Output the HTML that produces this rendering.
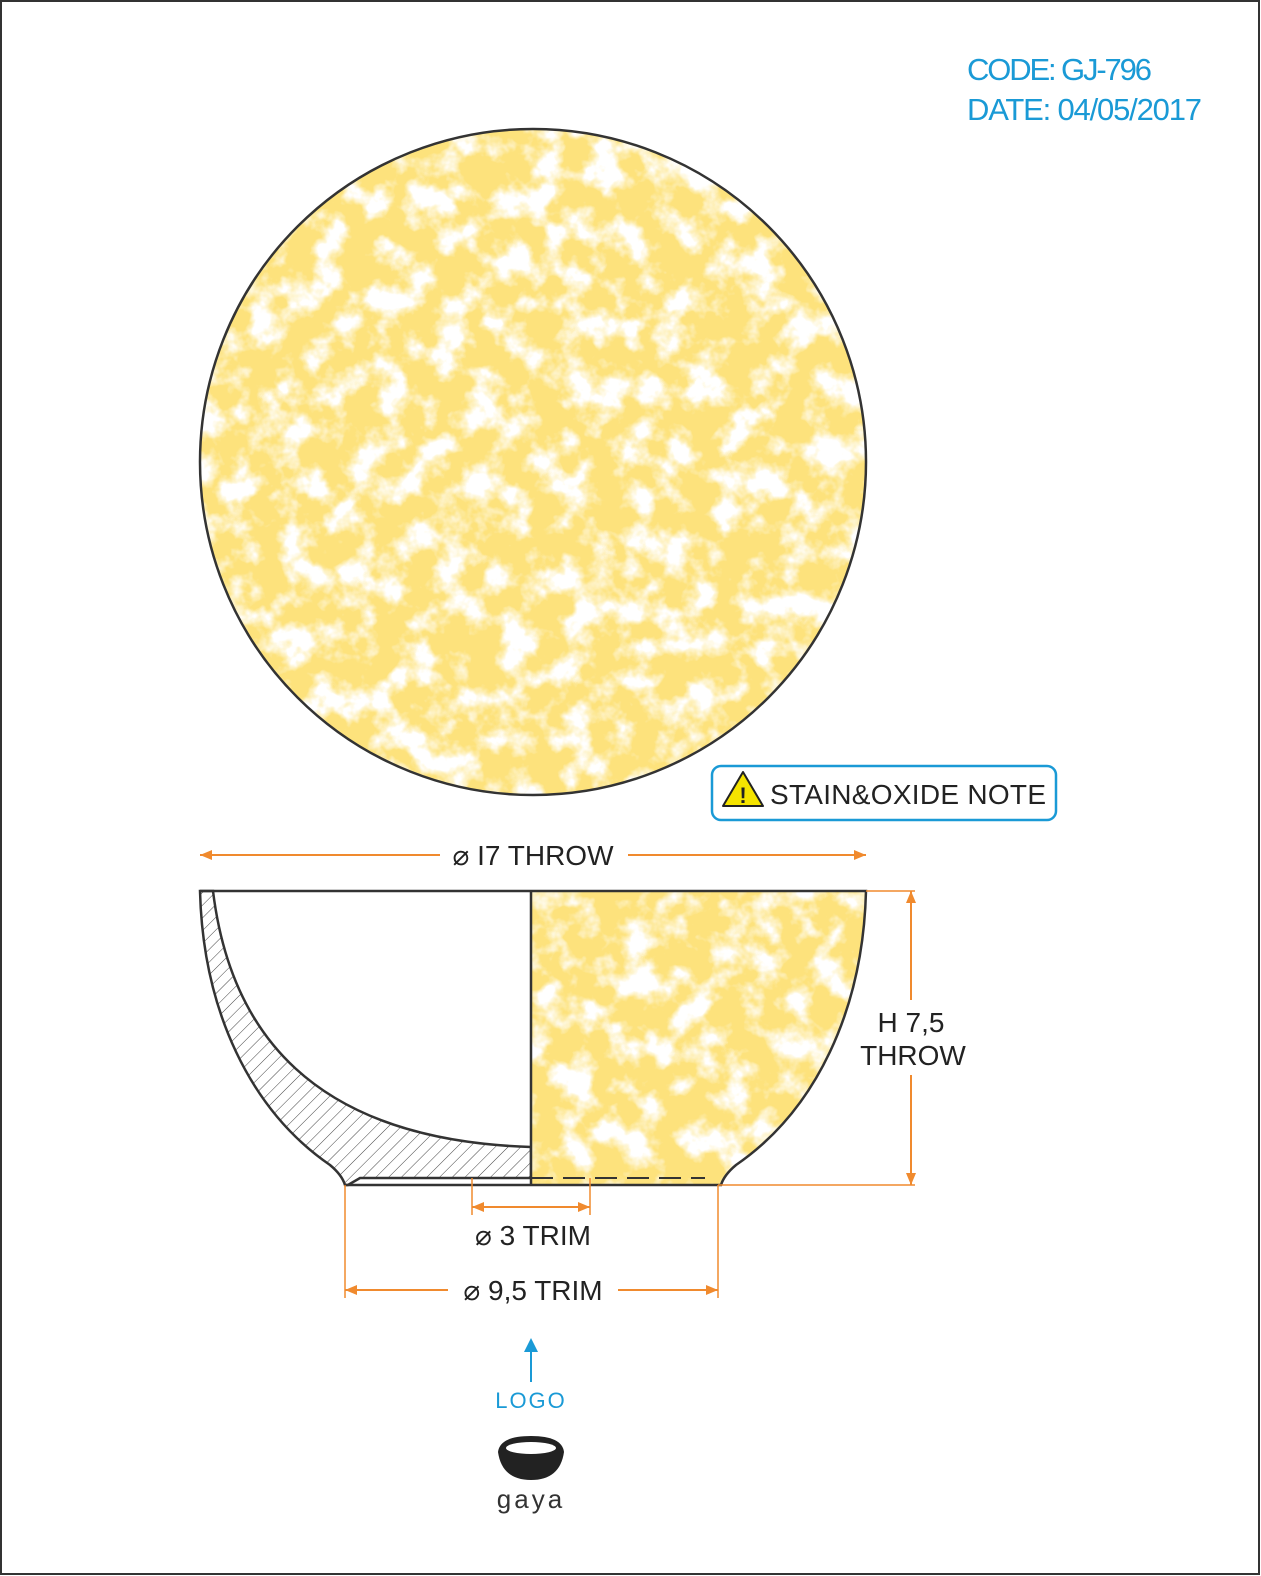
<!DOCTYPE html>
<html><head><meta charset="utf-8"><style>
html,body{margin:0;padding:0;background:#fff}
svg{display:block}
text{font-family:"Liberation Sans",sans-serif}
</style></head><body>
<svg width="1261" height="1576" viewBox="0 0 1261 1576">
<defs>
<filter id="mottle" x="0" y="0" width="100%" height="100%">
<feTurbulence type="fractalNoise" baseFrequency="0.032" numOctaves="4" seed="7" result="n"/>
<feColorMatrix in="n" type="matrix" values="0 0 0 0 0.98  0 0 0 0 0.76  0 0 0 0 0.2  4.2 0 0 0 -1.35"/>
</filter>
<pattern id="hatch" width="9" height="9" patternUnits="userSpaceOnUse" patternTransform="rotate(45)">
<line x1="0" y1="0" x2="0" y2="9" stroke="#444" stroke-width="1"/>
</pattern>
<clipPath id="circ"><circle cx="533" cy="462" r="333"/></clipPath>
<clipPath id="rhalf"><path d="M531,891 L866,891 C863,1010 816,1110 736,1165 Q724,1175 721,1185 L531,1185 Z"/></clipPath>
<marker id="arr" markerWidth="12" markerHeight="10" refX="12" refY="5" orient="auto-start-reverse" markerUnits="userSpaceOnUse"><path d="M0,0 L12,5 L0,10 Z" fill="#f08a2e"/></marker>
</defs>
<rect x="1" y="1" width="1258" height="1573" fill="#fff" stroke="#333" stroke-width="2"/>
<text x="967" y="80" font-size="31" fill="#1a9ad6" textLength="185">CODE: GJ-796</text>
<text x="967" y="120" font-size="31" fill="#1a9ad6" textLength="235">DATE: 04/05/2017</text>

<g>
<circle cx="533" cy="462" r="333" fill="#fff"/>
<rect x="195" y="125" width="680" height="680" fill="#fff" filter="url(#mottle)" clip-path="url(#circ)"/>
<circle cx="533" cy="462" r="333" fill="none" stroke="#333" stroke-width="2.5"/>
</g>

<g>
<rect x="712" y="766" width="344" height="54" rx="9" fill="#fff" stroke="#1a9ad6" stroke-width="2.5"/>
<path d="M743,772 L763,806 L723,806 Z" fill="#f5e400" stroke="#222" stroke-width="2" stroke-linejoin="round"/>
<text x="743" y="803" font-size="22" font-weight="bold" text-anchor="middle" fill="#222">!</text>
<text x="770" y="804" font-size="28" fill="#222" textLength="276">STAIN&amp;OXIDE NOTE</text>
</g>

<g>
<line x1="200" y1="855" x2="440" y2="855" stroke="#f08a2e" stroke-width="2" marker-start="url(#arr)"/>
<line x1="628" y1="855" x2="866" y2="855" stroke="#f08a2e" stroke-width="2" marker-end="url(#arr)"/>
<text x="533" y="865" font-size="28" text-anchor="middle" fill="#222">⌀ I7 THROW</text>
</g>

<g>
<path d="M200,891 L213,891 C230,1030 310,1140 531,1147 L531,1178 L360,1178 L348,1185 L345,1185 Q342,1175 330,1165 C250,1110 203,1010 200,891 Z" fill="url(#hatch)" stroke="#333" stroke-width="2.5"/>
<path d="M531,891 L866,891 C863,1010 816,1110 736,1165 Q724,1175 721,1185 L531,1185 Z" fill="#fff"/>
<rect x="525" y="885" width="345" height="305" fill="#fff" filter="url(#mottle)" clip-path="url(#rhalf)"/>
<path d="M200,891 L866,891 C863,1010 816,1110 736,1165 Q724,1175 721,1185 L345,1185" fill="none" stroke="#333" stroke-width="2.5"/>
<line x1="531" y1="891" x2="531" y2="1185" stroke="#333" stroke-width="2.5"/>
<line x1="531" y1="1178" x2="705" y2="1178" stroke="#333" stroke-width="2" stroke-dasharray="22,10"/>
</g>

<g stroke="#f08a2e" stroke-width="1.5">
<line x1="866" y1="891" x2="915" y2="891"/>
<line x1="718" y1="1185" x2="915" y2="1185"/>
<line x1="911" y1="891" x2="911" y2="1000" stroke-width="2" marker-start="url(#arr)"/>
<line x1="911" y1="1075" x2="911" y2="1185" stroke-width="2" marker-end="url(#arr)"/>
</g>
<text x="911" y="1032" font-size="28" text-anchor="middle" fill="#222">H 7,5</text>
<text x="913" y="1065" font-size="28" text-anchor="middle" fill="#222">THROW</text>

<g stroke="#f08a2e">
<line x1="472" y1="1178" x2="472" y2="1215" stroke-width="1.5"/>
<line x1="590" y1="1178" x2="590" y2="1215" stroke-width="1.5"/>
<line x1="472" y1="1207" x2="590" y2="1207" stroke-width="2" marker-start="url(#arr)" marker-end="url(#arr)"/>
</g>
<text x="533" y="1245" font-size="28" text-anchor="middle" fill="#222">⌀ 3 TRIM</text>

<g stroke="#f08a2e">
<line x1="345" y1="1185" x2="345" y2="1298" stroke-width="1.5"/>
<line x1="718" y1="1185" x2="718" y2="1298" stroke-width="1.5"/>
<line x1="345" y1="1290" x2="448" y2="1290" stroke-width="2" marker-start="url(#arr)"/>
<line x1="618" y1="1290" x2="718" y2="1290" stroke-width="2" marker-end="url(#arr)"/>
</g>
<text x="533" y="1300" font-size="28" text-anchor="middle" fill="#222">⌀ 9,5 TRIM</text>

<g>
<line x1="531" y1="1382" x2="531" y2="1346" stroke="#1a9ad6" stroke-width="2"/>
<path d="M524,1352 L531,1338 L538,1352 Z" fill="#1a9ad6"/>
<text x="531" y="1408" font-size="22" text-anchor="middle" fill="#1a9ad6" letter-spacing="2">LOGO</text>
</g>
<g>
<path d="M498,1452 Q500,1436 531,1436 Q562,1436 564,1452 Q560,1480 531,1480 Q502,1480 498,1452 Z" fill="#222"/>
<ellipse cx="531" cy="1448" rx="25" ry="6" fill="#fff"/>
<text x="531" y="1508" font-size="26" text-anchor="middle" fill="#333" letter-spacing="3">gaya</text>
</g>
</svg>
</body></html>
